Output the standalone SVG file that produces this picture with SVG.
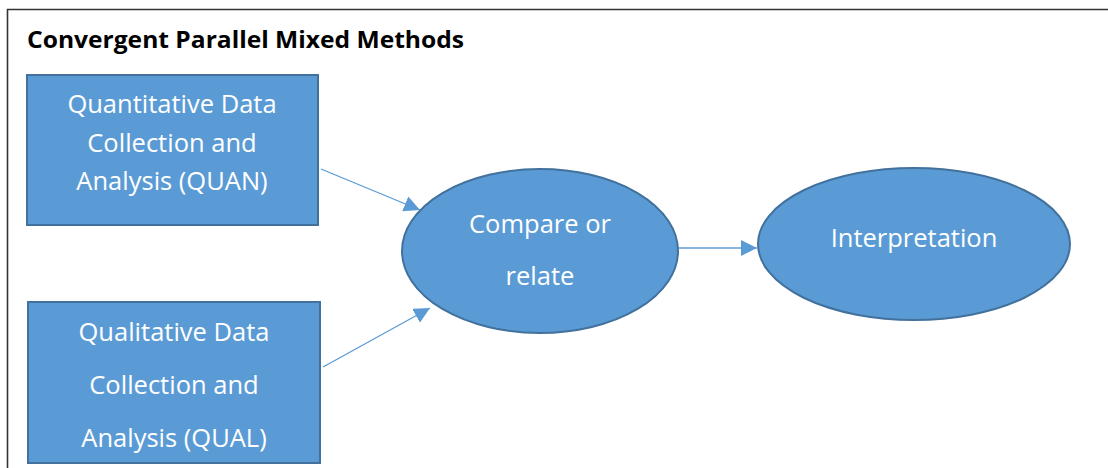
<svg xmlns="http://www.w3.org/2000/svg" width="1108" height="468" viewBox="0 0 1108 468">
<defs>
<style>
.node{fill:#5B9BD5;stroke:#41719C;stroke-width:2}
.lbl{font-family:"Open Sans","Liberation Sans",sans-serif;font-size:25.5px;fill:#ffffff;text-anchor:middle}
.conn{stroke:#5B9BD5;stroke-width:1.3;fill:none;marker-end:url(#ah)}
.title{font-family:"Open Sans","Liberation Sans",Arial,sans-serif;font-weight:bold;font-size:23px;fill:#000}
</style>
<marker id="ah" viewBox="0 0 10 10" refX="10" refY="5" markerWidth="16" markerHeight="16" markerUnits="userSpaceOnUse" orient="auto">
<path d="M0,0 L10,5 L0,10 z" fill="#5B9BD5"/>
</marker>
</defs>
<rect width="1108" height="468" fill="#ffffff"/>
<g id="frame">
<path d="M7.5,468 V9.5 H1108" fill="none" stroke="#333" stroke-width="1.6"/>
<text class="title" x="27" y="48" textLength="437" lengthAdjust="spacingAndGlyphs">Convergent Parallel Mixed Methods</text>
</g>
<g id="connectors">
<line class="conn" x1="321" y1="169" x2="420" y2="210"/>
<line class="conn" x1="323" y1="367" x2="430" y2="308"/>
<line class="conn" x1="678" y1="248" x2="757" y2="248"/>
</g>
<g id="quan">
<rect class="node" x="27" y="75" width="291" height="150"/>
<text class="lbl" x="172" y="113">Quantitative Data</text>
<text class="lbl" x="172" y="152">Collection and</text>
<text class="lbl" x="172" y="190">Analysis (QUAN)</text>
</g>
<g id="qual">
<rect class="node" x="28" y="302" width="292" height="161"/>
<text class="lbl" x="174" y="341">Qualitative Data</text>
<text class="lbl" x="174" y="394">Collection and</text>
<text class="lbl" x="174" y="447">Analysis (QUAL)</text>
</g>
<g id="compare">
<ellipse class="node" cx="540" cy="251" rx="138" ry="82"/>
<text class="lbl" x="540" y="233">Compare or</text>
<text class="lbl" x="540" y="285">relate</text>
</g>
<g id="interp">
<ellipse class="node" cx="914" cy="244" rx="156" ry="76"/>
<text class="lbl" x="914" y="247">Interpretation</text>
</g>
</svg>
